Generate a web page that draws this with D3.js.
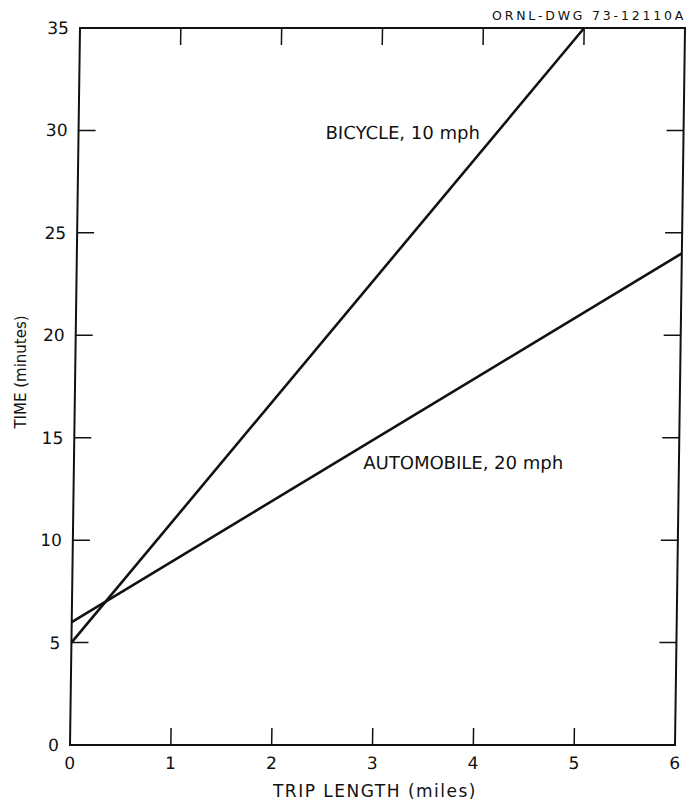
<!DOCTYPE html>
<html>
<head>
<meta charset="utf-8">
<script src="https://cdn.jsdelivr.net/npm/d3@7"></script>
<style>
  body { margin: 0; background: #fff; }
  text { font-family: "DejaVu Sans", sans-serif; fill: #111; }
</style>
</head>
<body>
<svg></svg>
<script>
// values
var xTicks = [0, 1, 2, 3, 4, 5, 6]
var yTicks = [0, 5, 10, 15, 20, 25, 30, 35]

var bicycle = [[0, 5], [5, 35]]
var automobile = [[0, 6], [6, 24]]

var labels = [
  { text: 'BICYCLE, 10 mph', x: 2.45, y: 29.6 },
  { text: 'AUTOMOBILE, 20 mph', x: 2.87, y: 13.45 }
]

var width = 688
var height = 805
var margin = { top: 28, right: 13, bottom: 60, left: 70 }

var svg = d3.select('svg').attr('width', width).attr('height', height)

var x = d3.scaleLinear().domain([0, 6]).range([margin.left, width - margin.right])
var y = d3.scaleLinear().domain([0, 35]).range([height - margin.bottom, margin.top])

// the scanned drawing leans a little to the right towards the top
var k = 10 / (y(0) - y(35))
var plot = svg.append('g')
  .attr('transform', 'matrix(1,0,' + (-k) + ',1,' + (k * y(0)) + ',0)')

var tickLen = 17

// frame
plot.append('rect')
  .attr('x', x(0)).attr('y', y(35))
  .attr('width', x(6) - x(0)).attr('height', y(0) - y(35))
  .attr('fill', 'none').attr('stroke', '#111').attr('stroke-width', 2)

// inward ticks on all four sides
var g = plot.append('g').attr('stroke', '#111').attr('stroke-width', 1.5)
xTicks.slice(1, -1).forEach(function (t) {
  g.append('line').attr('x1', x(t)).attr('x2', x(t)).attr('y1', y(0)).attr('y2', y(0) - tickLen)
  g.append('line').attr('x1', x(t)).attr('x2', x(t)).attr('y1', y(35)).attr('y2', y(35) + tickLen)
})
yTicks.slice(1, -1).forEach(function (t) {
  g.append('line').attr('x1', x(0)).attr('x2', x(0) + tickLen).attr('y1', y(t)).attr('y2', y(t))
  g.append('line').attr('x1', x(6)).attr('x2', x(6) - tickLen).attr('y1', y(t)).attr('y2', y(t))
})

// tick labels
plot.append('g').selectAll('text').data(xTicks).enter().append('text')
  .attr('x', function (d) { return x(d) }).attr('y', y(0) + 24)
  .attr('text-anchor', 'middle').attr('font-size', 17)
  .text(function (d) { return d })

plot.append('g').selectAll('text').data(yTicks).enter().append('text')
  .attr('x', x(0) - 11).attr('y', function (d) { return y(d) + 6 })
  .attr('text-anchor', 'end').attr('font-size', 17)
  .text(function (d) { return d })

// data lines
var line = d3.line().x(function (d) { return x(d[0]) }).y(function (d) { return y(d[1]) })
plot.selectAll('path.series').data([bicycle, automobile]).enter().append('path')
  .attr('class', 'series')
  .attr('d', line)
  .attr('fill', 'none').attr('stroke', '#111').attr('stroke-width', 2.6)

// line labels
plot.append('g').selectAll('text').data(labels).enter().append('text')
  .attr('x', function (d) { return x(d.x) }).attr('y', function (d) { return y(d.y) })
  .attr('font-size', 18)
  .text(function (d) { return d.text })

// axis titles
svg.append('text')
  .attr('x', 375).attr('y', 797)
  .attr('text-anchor', 'middle').attr('font-size', 17)
  .attr('letter-spacing', 1.5)
  .text('TRIP LENGTH (miles)')

svg.append('text')
  .attr('transform', 'translate(26,372) rotate(-90)')
  .attr('text-anchor', 'middle').attr('font-size', 15)
  .text('TIME (minutes)')

svg.append('text')
  .attr('x', 686).attr('y', 20)
  .attr('text-anchor', 'end').attr('font-size', 12.5)
  .attr('letter-spacing', 2.8)
  .text('ORNL-DWG 73-12110A')
</script>
</body>
</html>
